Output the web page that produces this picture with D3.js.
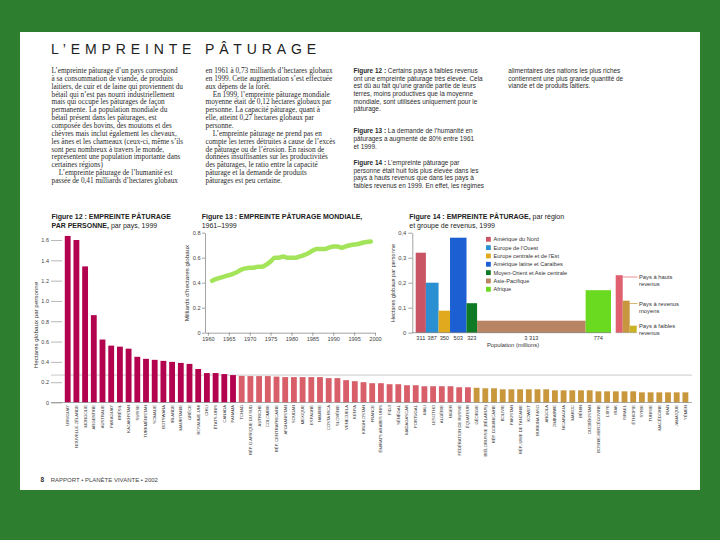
<!DOCTYPE html>
<html><head><meta charset="utf-8">
<script src="https://cdn.jsdelivr.net/npm/d3@7"></script>
<style>body{margin:0;background:#2e7e2f;} svg{display:block}</style>
</head><body><svg id="c" width="720" height="540"></svg>
<script>
// ---------- DATA ----------
const countriesHigh = ["URUGUAY","NOUVELLE-ZÉLANDE","MONGOLIE","ARGENTINE","AUSTRALIE","PARAGUAY","BRÉSIL","KAZAKHSTAN","SUISSE","TURKMÉNISTAN","SOMALIE","BOTSWANA","IRLANDE","MAURITANIE","GRÈCE","ROYAUME-UNI","CHILI","ÉTATS-UNIS","CANADA","PANAMA"];
const valuesHigh = [1.64,1.60,1.34,0.86,0.62,0.56,0.55,0.53,0.45,0.43,0.42,0.41,0.40,0.39,0.38,0.33,0.29,0.29,0.28,0.27];
const countriesMid = ["TCHAD","RÉP. D'AFRIQUE DU SUD","AUTRICHE","COLOMBIE","RÉP. CENTRAFRICAINE","AFGHANISTAN","SOUDAN","MEXIQUE","ESPAGNE","NAMIBIE","COSTA RICA","SLOVÉNIE","VENEZUELA","KENYA","KIRGHIZISTAN","FRANCE","ÉMIRATS ARABES UNIS","FIDJI","SÉNÉGAL","MADAGASCAR","PORTUGAL","MALI","LESOTHO","ALGÉRIE","NIGER","FÉDÉRATION DE RUSSIE","ÉQUATEUR"];
const valuesMid = [0.262,0.26,0.26,0.26,0.255,0.25,0.25,0.25,0.25,0.25,0.24,0.24,0.22,0.21,0.20,0.19,0.19,0.18,0.18,0.17,0.17,0.16,0.16,0.16,0.16,0.15,0.15];
const countriesLow = ["GÉORGIE","BIÉLORUSSIE (BÉLARUS)","RÉP. DOMINICAINE","BOLIVIE","PAKISTAN","RÉP.-UNIE DE TANZANIE","KOWEÏT","BURKINA FASO","ANGOLA","ZIMBABWE","NICARAGUA","MAROC","BÉNIN","OUZBÉKISTAN","BOSNIE-HERZÉGOVINE","LIBYE","IRAK","ISRAËL","ÉTHIOPIE","SYRIE","TUNISIE","MACÉDOINE","IRAN","JAMAÏQUE","YÉMEN"];
const valuesLow = [0.145,0.14,0.14,0.13,0.13,0.13,0.13,0.13,0.13,0.12,0.12,0.12,0.12,0.12,0.11,0.11,0.11,0.11,0.11,0.10,0.10,0.10,0.10,0.10,0.10];
const ticks12 = [0,0.2,0.4,0.6,0.8,1.0,1.2,1.4,1.6];
const capacity = 0.27;

const years13 = [1961,1962,1963,1964,1965,1966,1967,1968,1969,1970,1971,1972,1973,1974,1975,1976,1977,1978,1979,1980,1981,1982,1983,1984,1985,1986,1987,1988,1989,1990,1991,1992,1993,1994,1995,1996,1997,1998,1999];
const values13 = [0.415,0.43,0.44,0.45,0.46,0.47,0.485,0.505,0.515,0.52,0.52,0.528,0.528,0.545,0.57,0.60,0.60,0.61,0.60,0.60,0.60,0.61,0.62,0.635,0.655,0.67,0.67,0.67,0.68,0.69,0.69,0.68,0.69,0.70,0.705,0.71,0.72,0.725,0.73];
const ticks13y = [0,0.2,0.4,0.6,0.8];
const ticks13x = [1960,1965,1970,1975,1980,1985,1990,1995,2000];

const regions14 = ["Amérique du Nord","Europe de l'Ouest","Europe centrale et de l'Est","Amérique latine et Caraïbes","Moyen-Orient et Asie centrale","Asie-Pacifique","Afrique"];
const population14 = [311,387,350,503,323,3313,774];
const popLabels14 = ["311","387","350","503","323","3 313","774"];
const values14 = [0.32,0.20,0.088,0.38,0.118,0.048,0.17];
const incomes14 = ["Pays à hauts revenus","Pays à revenus moyens","Pays à faibles revenus"];
const incomeLines14 = [["Pays à hauts","revenus"],["Pays à revenus","moyens"],["Pays à faibles","revenus"]];
const incomeValues14 = [0.23,0.128,0.028];
const ticks14 = [0,0.1,0.2,0.3,0.4];

// ---------- STYLES ----------
const SANS = "Liberation Sans, Arial, sans-serif";
const SERIF = "Liberation Serif, Times New Roman, serif";
const regionColors = ["#c95463","#2a90d2","#e1aa1e","#1b5fd3","#0e7a24","#b98463","#6ada20"];
const incomeColors = ["#e0606f","#c8963e","#c9b322"];
const groupColor = {high:"#b3034f", mid:"#d85f69", low:"#c9973c"};

const svg = d3.select('#c');
svg.append('rect').attr('width',720).attr('height',540).attr('fill','#2e7e2f');
svg.append('rect').attr('x',20).attr('y',32).attr('width',680).attr('height',458).attr('fill','#fff');

// Title
svg.append('text').attr('x',51).attr('y',53.5).attr('font-family',SANS).attr('font-size',14)
  .attr('fill','#222').attr('textLength',265).attr('lengthAdjust','spacing').text("L’EMPREINTE PÂTURAGE");

// Body columns
function column(lines, x, y0, lh, family, size){
  const g = svg.append('g').attr('font-family',family).attr('font-size',size).attr('fill','#2a2a2a');
  lines.forEach((ln,i)=>{
    const t = g.append('text').attr('x',x).attr('y',y0+i*lh);
    if (Array.isArray(ln)) { t.append('tspan').attr('font-weight','bold').text(ln[0]); t.append('tspan').text(ln[1]); }
    else t.text(ln);
  });
}
column(["L’empreinte pâturage d’un pays correspond","à sa consommation de viande, de produits","laitiers, de cuir et de laine qui proviennent du","bétail qui n’est pas nourri industriellement","mais qui occupe les pâturages de façon","permanente. La population mondiale du","bétail présent dans les pâturages, est","composée des bovins, des moutons et des","chèvres mais inclut également les chevaux,","les ânes et les chameaux (ceux-ci, même s’ils","sont peu nombreux à travers le monde,","représentent une population importante dans","certaines régions)","\u2003L’empreinte pâturage de l’humanité est","passée de 0,41 milliards d’hectares globaux"], 51.5, 73, 7.86, SERIF, 7.25);
column(["en 1961 à 0,73 milliards d’hectares globaux","en 1999. Cette augmentation s’est effectuée","aux dépens de la forêt.","\u2003En 1999, l’empreinte pâturage mondiale","moyenne était de 0,12 hectares globaux par","personne. La capacité pâturage, quant à","elle, atteint 0,27 hectares globaux par","personne.","\u2003L’empreinte pâturage ne prend pas en","compte les terres détruites à cause de l’excès","de pâturage ou de l’érosion. En raison de","données insuffisantes sur les productivités","des pâturages, le ratio entre la capacité","pâturage et la demande de produits","pâturages est peu certaine."], 205.5, 73, 7.86, SERIF, 7.25);
column([["Figure 12 :"," Certains pays à faibles revenus"],"ont une empreinte pâturage très élevée. Cela","est dû au fait qu’une grande partie de leurs","terres, moins productives que la moyenne","mondiale, sont utilisées uniquement pour le","pâturage."], 353.5, 72.8, 7.73, SANS, 6.45);
column([["Figure 13 :"," La demande de l’humanité en"],"pâturages a augmenté de 80%  entre 1961","et 1999."], 353.5, 133.2, 7.73, SANS, 6.45);
column([["Figure 14 :"," L’empreinte pâturage par"],"personne était huit fois plus élevée dans les","pays à hauts revenus que dans les pays à","faibles revenus en 1999. En effet, les régimes"], 353.5, 164.8, 7.73, SANS, 6.45);
column(["alimentaires des nations les plus riches","contiennent une plus grande quantité de","viande et de produits laitiers."], 508.3, 72.8, 7.73, SANS, 6.45);

// Figure titles
function figTitle(x, l1, l2){
  const g = svg.append('g').attr('font-family',SANS).attr('font-size',7).attr('fill','#222');
  [l1,l2].forEach((ln,i)=>{
    const t = g.append('text').attr('x',x).attr('y',219.3+i*8.4);
    t.append('tspan').attr('font-weight','bold').text(ln[0]);
    if (ln[1]) t.append('tspan').text(ln[1]);
  });
}
figTitle(51.5, ["Figure 12 : EMPREINTE PÂTURAGE"], ["PAR PERSONNE,", " par pays, 1999"]);
figTitle(201.7, ["Figure 13 : EMPREINTE PÂTURAGE MONDIALE,"], ["", "1961–1999"]);
figTitle(409.3, ["Figure 14 : EMPREINTE PÂTURAGE,", " par région"], ["", "et groupe de revenus, 1999"]);

// ---------- FIGURE 12 ----------
const data12 = [];
countriesHigh.forEach((c,i)=>data12.push({c, v:valuesHigh[i], g:'high'}));
countriesMid.forEach((c,i)=>data12.push({c, v:valuesMid[i], g:'mid'}));
countriesLow.forEach((c,i)=>data12.push({c, v:valuesLow[i], g:'low'}));
const x12 = d3.scaleBand().domain(data12.map(d=>d.c)).range([63.35, 689.75]).paddingInner(0.33).paddingOuter(0.165);
const y12 = d3.scaleLinear().domain([0,1.6]).range([402.5, 240]);
const g12 = svg.append('g');
g12.append('line').attr('x1',51).attr('x2',692).attr('y1',y12(capacity)).attr('y2',y12(capacity)).attr('stroke','#bdbdbd').attr('stroke-width',0.8);
g12.selectAll('rect.b').data(data12).join('rect').attr('class','b')
  .attr('x',d=>x12(d.c)).attr('width',x12.bandwidth()).attr('y',d=>y12(d.v)).attr('height',d=>y12(0)-y12(d.v)).attr('fill',d=>groupColor[d.g]);
const ax12 = g12.append('g').attr('transform','translate(51,0)')
  .call(d3.axisLeft(y12).tickValues(ticks12).tickSize(-11).tickPadding(2).tickFormat(d=>d===0?'0':d3.format('.1f')(d)));
ax12.select('.domain').remove();
ax12.selectAll('line').attr('stroke','#888').attr('stroke-width',0.6);
ax12.selectAll('text').attr('font-family',SANS).attr('font-size',5.5).attr('fill','#444');
g12.append('line').attr('x1',51).attr('x2',692).attr('y1',y12(0)).attr('y2',y12(0)).attr('stroke','#888').attr('stroke-width',0.7);
g12.selectAll('text.lab').data(data12).join('text').attr('class','lab')
  .attr('transform',d=>`translate(${x12(d.c)+x12.bandwidth()/2+1.4},405) rotate(-90)`)
  .attr('text-anchor','end').attr('font-family',SANS).attr('font-size',4.2).attr('fill','#333').text(d=>d.c);
g12.append('text').attr('transform','translate(38,325) rotate(-90)').attr('text-anchor','middle')
  .attr('font-family',SANS).attr('font-size',6.2).attr('fill','#333').text('Hectares globaux par personne');

// ---------- FIGURE 13 ----------
const x13 = d3.scaleLinear().domain([1959.3,2000]).range([205,375]);
const y13 = d3.scaleLinear().domain([0,0.8]).range([332.7,232.7]);
const g13 = svg.append('g');
const ay13 = g13.append('g').attr('transform','translate(205,0)')
  .call(d3.axisLeft(y13).tickValues(ticks13y).tickSize(3).tickSizeOuter(0).tickPadding(1.5).tickFormat(d=>d===0?'0':d3.format('.1f')(d)));
const ax13 = g13.append('g').attr('transform','translate(0,332.7)')
  .call(d3.axisBottom(x13).tickValues(ticks13x).tickSize(3).tickSizeOuter(0).tickPadding(1.5).tickFormat(d3.format('d')));
[ay13,ax13].forEach(a=>{
  a.selectAll('line,path').attr('stroke','#666').attr('stroke-width',0.6);
  a.selectAll('text').attr('font-family',SANS).attr('font-size',5.6).attr('fill','#444');
});
g13.append('path').datum(years13.map((y,i)=>[y,values13[i]]))
  .attr('d', d3.line().x(d=>x13(d[0])).y(d=>y13(d[1])).curve(d3.curveMonotoneX))
  .attr('fill','none').attr('stroke','#a4e45a').attr('stroke-width',4.5).attr('stroke-linecap','round').attr('stroke-linejoin','round');
g13.append('text').attr('transform','translate(189,283) rotate(-90)').attr('text-anchor','middle')
  .attr('font-family',SANS).attr('font-size',6.2).attr('fill','#333').text('Milliards d’hectares globaux');

// ---------- FIGURE 14 ----------
const totalPop = d3.sum(population14);
const xp = d3.scaleLinear().domain([0,totalPop]).range([415.7,611]);
const y14 = d3.scaleLinear().domain([0,0.4]).range([332.7,232.7]);
const cum = d3.cumsum(population14);
const data14 = regions14.map((r,i)=>({r, p:population14[i], s:cum[i]-population14[i], e:cum[i], v:values14[i], lab:popLabels14[i], col:regionColors[i]}));
const g14 = svg.append('g');
g14.selectAll('rect.r').data(data14).join('rect').attr('class','r')
  .attr('x',d=>xp(d.s)).attr('width',d=>xp(d.e)-xp(d.s)).attr('y',d=>y14(d.v)).attr('height',d=>y14(0)-y14(d.v)).attr('fill',d=>d.col);
const ay14 = g14.append('g').attr('transform','translate(412.3,0)')
  .call(d3.axisLeft(y14).tickValues(ticks14).tickSize(4).tickSizeOuter(0).tickPadding(2).tickFormat(d=>d===0?'0':d3.format('.1f')(d).replace('.',',')));
ay14.selectAll('line,path').attr('stroke','#666').attr('stroke-width',0.6);
ay14.selectAll('text').attr('font-family',SANS).attr('font-size',5.8).attr('fill','#444');
g14.append('line').attr('x1',412.3).attr('x2',611).attr('y1',y14(0)).attr('y2',y14(0)).attr('stroke','#666').attr('stroke-width',0.6);
g14.selectAll('text.pl').data(data14).join('text').attr('class','pl')
  .attr('x',d=>(xp(d.s)+xp(d.e))/2).attr('y',339.5).attr('text-anchor','middle')
  .attr('font-family',SANS).attr('font-size',5.6).attr('fill','#333').text(d=>d.lab);
g14.append('text').attr('x',513).attr('y',346.5).attr('text-anchor','middle')
  .attr('font-family',SANS).attr('font-size',5.8).attr('fill','#333').text('Population (millions)');
g14.append('text').attr('transform','translate(395,283) rotate(-90)').attr('text-anchor','middle')
  .attr('font-family',SANS).attr('font-size',5.6).attr('fill','#333').text('Hectares globaux par personne');
// legend
const leg = g14.selectAll('g.leg').data(data14).join('g').attr('class','leg')
  .attr('transform',(d,i)=>`translate(486,${239.3+i*8.33})`);
leg.append('rect').attr('x',0).attr('y',-2.4).attr('width',4.8).attr('height',4.8).attr('fill',d=>d.col);
leg.append('text').attr('x',7.5).attr('y',2).attr('font-family',SANS).attr('font-size',5.6).attr('fill','#333').text(d=>d.r);
// income bars
const xi = d3.scaleBand().domain(incomes14).range([615.7,636.7]).padding(0);
const inc = incomes14.map((n,i)=>({n, v:incomeValues14[i], col:incomeColors[i], lines:incomeLines14[i]}));
g14.selectAll('rect.inc').data(inc).join('rect').attr('class','inc')
  .attr('x',d=>xi(d.n)).attr('width',xi.bandwidth()).attr('y',d=>y14(d.v)).attr('height',d=>y14(0)-y14(d.v)).attr('fill',d=>d.col);
g14.append('line').attr('x1',615.7).attr('x2',636.7).attr('y1',y14(0)).attr('y2',y14(0)).attr('stroke','#888').attr('stroke-width',0.5);
const callY = [277, 303.5, 325.7];
inc.forEach((d,i)=>{
  g14.append('line').attr('x1',xi(d.n)+xi.bandwidth()).attr('x2',637.5).attr('y1',callY[i]).attr('y2',callY[i]).attr('stroke',d.col).attr('stroke-width',0.7);
  d.lines.forEach((t,j)=>g14.append('text').attr('x',639).attr('y',callY[i]+2+j*7.3).attr('font-family',SANS).attr('font-size',5.8).attr('fill','#333').text(t));
});

// Footer
svg.append('text').attr('x',40.5).attr('y',482).attr('font-family',SANS).attr('font-size',6.5).attr('font-weight','bold').attr('fill','#333').text('8');
svg.append('text').attr('x',50.7).attr('y',482).attr('font-family',SANS).attr('font-size',6).attr('fill','#444').text('RAPPORT • PLANÈTE VIVANTE • 2002');
</script></body></html>
